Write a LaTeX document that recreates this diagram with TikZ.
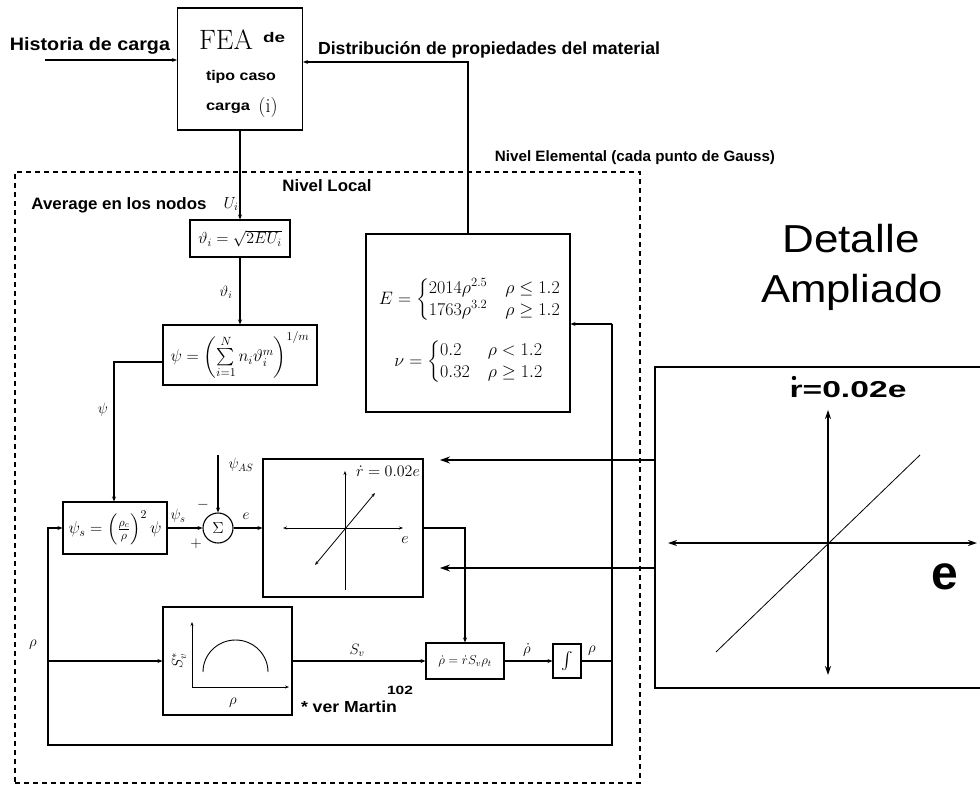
\RequirePackage{fix-cm}
\documentclass[tikz,border=0pt]{standalone}
\usepackage{amsmath}
\usepackage{fontspec}
\usepackage{graphicx}
\newfontfamily\lsans{Liberation Sans}
\usetikzlibrary{arrows.meta}
\newcommand\bsf[3]{\resizebox{#2pt}{\height}{\fontsize{#1}{#1}\selectfont\lsans\bfseries #3}}
\newcommand\msz[1]{\fontsize{#1}{#1}\selectfont}
\begin{document}
\begin{tikzpicture}[x=1pt,y=-1pt,
  box/.style={draw, line width=1.1pt, inner sep=1pt},
  ln/.style={line width=1.1pt},
  arr/.style={line width=1.1pt, -{Stealth[length=5pt,width=4pt]}},
  sarr/.style={line width=0.8pt, {Stealth[length=4pt,width=3pt]}-{Stealth[length=4pt,width=3pt]}},
  barr/.style={line width=1.3pt, {Stealth[length=9pt,width=6pt]}-{Stealth[length=9pt,width=6pt]}},
  zarr/.style={line width=1.1pt, -{Stealth[length=10pt,width=7pt]}},
  mlab/.style={inner sep=0pt, font=\msz{15}}]
\useasboundingbox (0,0) rectangle (980,787);

% FEA block
\node[box, minimum width=125, minimum height=122] (fea) at (240,69) {};
\node (feaA) at (226,40) {\msz{28}FEA};
\node (feaDe) at (274,37) {\bsf{14}{22}{de}};
\node (feaT) at (241,77) {\bsf{14}{70}{tipo caso}};
\node (feaC) at (228,108) {\bsf{14}{44}{carga}};
\node (feaI) at (268,107) {\msz{20}$(\mathrm{i})$};

\node (histT) at (90,46) {\bsf{18}{160}{Historia de carga}};
\coordinate (hist) at (45,60);
\draw[arr] (hist) -- (hist -| fea.west);

\node (distT) at (489,50) {\bsf{17.5}{342}{Distribución de propiedades del material}};

% material box
\node[box, minimum width=204, minimum height=178] (Ebox) at (468,323) {};
\node (eqE) at (470,300) {\msz{18}$E=\begin{cases}2014\rho^{2.5} & \rho\le 1.2\\ 1763\rho^{3.2} & \rho\ge 1.2\end{cases}$};
\node (eqNu) at (469,362) {\msz{18}$\nu=\begin{cases}0.2 & \rho< 1.2\\ 0.32 & \rho\ge 1.2\end{cases}$};
\coordinate (dist) at (468,62);
\draw[arr] (Ebox.north) -- (dist) -- (dist -| fea.east);

% dashed frame
\node[draw, line width=1.1pt, dash pattern=on 5pt off 4pt, minimum width=625, minimum height=611, inner sep=0pt] (local) at (327.5,477.5) {};
\node (elemT) at (635,158) {\bsf{15}{280}{Nivel Elemental (cada punto de Gauss)}};
\node (localT) at (327,186) {\bsf{16.5}{89}{Nivel Local}};
\node (avgT) at (119,205) {\bsf{16.5}{175}{Average en los nodos}};
\node (avgU) at (231,204) {\msz{16}$U_i$};

% theta
\node[box, minimum width=100, minimum height=37] (theta) at (240,238.5) {\msz{16}$\vartheta_i=\sqrt{2EU_i}$};
\draw[arr] (fea.south) -- (theta.north);
\node[mlab] (thl) at (226,292) {$\vartheta_i$};

% psi
\node[box, minimum width=154, minimum height=60] (psi) at (240,355) {\msz{17}$\psi=\left(\sum\limits_{i=1}^{N} n_i\vartheta_i^{m}\right)^{1/m}$};
\draw[arr] (theta.south) -- (psi.north);

% psi_s
\node[box, minimum width=104, minimum height=52] (psis) at (115,528) {\msz{17}$\psi_s=\left(\frac{\rho_c}{\rho}\right)^{2}\psi$};
\coordinate (psiL) at (114,362);
\draw[arr] (psi.west |- psiL) -- (psiL) -- (psiL |- psis.north);
\node[mlab] (psil) at (103,410) {$\psi$};

% sum
\node[draw, circle, line width=1.1pt, minimum size=30, inner sep=0pt] (sig) at (218,528) {\msz{16}$\Sigma$};
\draw[arr] (psis.east) -- (sig.west);
\node[mlab] (psisl) at (178,516) {$\psi_s$};
\coordinate (asin) at (218,455);
\draw[arr] (asin) -- (sig.north);
\node[mlab] (asl) at (241,465) {$\psi_{AS}$};
\node[mlab] (minus) at (203,505) {$-$};
\node[mlab] (plus) at (196,544) {$+$};

% r box
\node[box, minimum width=160, minimum height=138] (rbox) at (343,528) {};
\draw[arr] (sig.east) -- (rbox.west);
\node[mlab] (el) at (246,516) {$e$};
\draw[sarr] (283,528) -- (403,528);
\draw[line width=0.8pt, -{Stealth[length=4pt,width=3pt]}] (345,590) -- (345,471);
\draw[sarr] (315,565) -- (375,493);
\node[inner sep=0pt] (rlab) at (388,471) {\msz{16}$\dot r=0.02e$};
\node[inner sep=0pt] (elab) at (405,540) {\msz{16}$e$};

% rho dot
\node[box, minimum width=78, minimum height=36] (rdot) at (465,661) {\msz{13}$\dot\rho=\dot r S_v\rho_t$};
\coordinate (rr) at (465,528);
\draw[arr] (rbox.east) -- (rr) -- (rdot.north);

% integrator
\node[box, minimum width=28, minimum height=34] (intg) at (567,661) {\msz{16}$\int$};
\draw[arr] (rdot.east) -- (intg.west);
\node[mlab] (rdl) at (527,650) {$\dot\rho$};
\node[mlab] (rl) at (592,651) {$\rho$};

% S_v box
\node[box, minimum width=129, minimum height=108] (Sv) at (227.5,661) {};
\draw[line width=0.8pt, -{Stealth[length=4pt,width=3pt]}] (192,687) -- (192,622);
\draw[line width=0.8pt, -{Stealth[length=4pt,width=3pt]}] (192,687) -- (289,687);
\draw[line width=0.9pt] (203,672) arc[start angle=180, end angle=360, x radius=32.5, y radius=32];
\node[rotate=90, inner sep=0pt] (svs) at (179,661) {\msz{15}$S_v^{*}$};
\node[inner sep=0pt] (svr) at (233,703) {\msz{15}$\rho$};
\draw[arr] (Sv.east) -- (rdot.west);
\node[mlab] (svl) at (357,650) {$S_v$};
\node (martin) at (349,707) {\bsf{16}{96}{* ver Martin}};
\node (ref) at (400,690) {\bsf{12}{26}{102}};

% feedback
\coordinate (vx) at (612,324);
\coordinate (fbR) at (612,745);
\coordinate (fbL) at (48,745);
\draw[arr] (vx) -- (Ebox.east |- vx);
\draw[arr] (vx) -- (fbR) -- (fbL) -- (fbL |- psis.west) -- (psis.west);
\draw[arr] (fbL |- Sv.west) -- (Sv.west);
\draw[ln] (intg.east) -- (intg.east -| vx);
\node[mlab] (rhol) at (33,645) {$\rho$};

% detail
\node (det1) at (851,239) {\resizebox{137pt}{\height}{\msz{39}\lsans Detalle}};
\node (det2) at (852,292) {\resizebox{182pt}{\height}{\msz{39}\lsans Ampliado}};
\draw[line width=1.1pt] (980,367) -- (655,367) -- (655,688) -- (980,688);
\coordinate (dA) at (655,460);
\coordinate (dB) at (655,568);
\coordinate (tA) at (440,460);
\coordinate (tB) at (440,568);
\draw[zarr] (dA) -- (tA);
\draw[zarr] (dB) -- (tB);
\draw[barr] (828,675) -- (828,410);
\draw[barr] (668,543) -- (977,543);
\draw[line width=0.8pt] (716,652) -- (920,455);
\node (dlab) at (848,390) {\resizebox{117pt}{\height}{\msz{23}\lsans\bfseries r=0.02e}};
\fill (dlab.west) ++(8,-12) circle (2.2);
\node (dle) at (945,577) {\msz{48}\lsans\bfseries e};
\end{tikzpicture}
\end{document}
